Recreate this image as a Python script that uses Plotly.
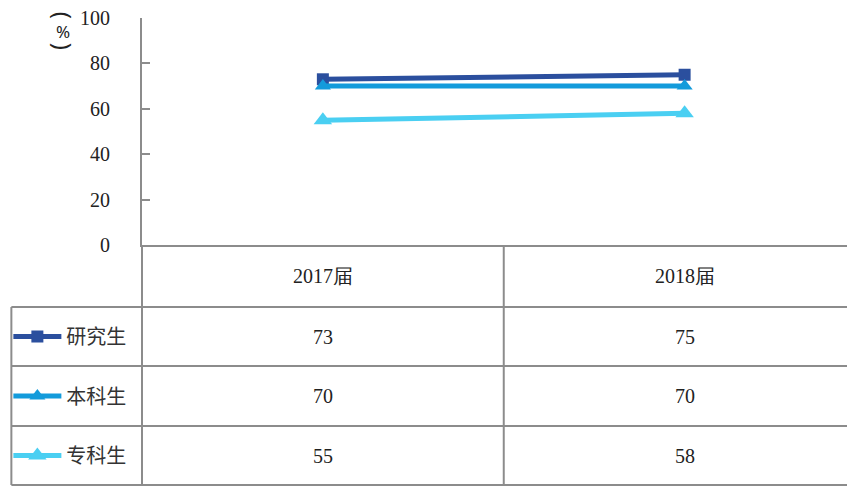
import plotly.graph_objects as go

categories = ["2017届", "2018届"]
series_names = ["研究生", "本科生", "专科生"]
grad_vals = [73, 75]
bach_vals = [70, 70]
voc_vals = [55, 58]
y_ticks = [0, 20, 40, 60, 80, 100]

colors = ["#2B4F9E", "#139BDB", "#4ACFF2"]
symbols = ["square", "triangle-up", "triangle-up"]
msizes = [12, 14, 16]
all_vals = [grad_vals, bach_vals, voc_vals]

OFF = 8  # default page body margin
W, H = 855 - OFF, 486 - OFF
AX_L, AX_T, AX_B = 140, 18, 245
L = AX_L - OFF
T = AX_T - OFF
B = H - (AX_B - OFF)
R = 0
plot_h = H - T - B
plot_w = W - L - R

def py(p):  # screenshot pixel y -> paper y
    return (AX_B - p) / plot_h

def px(p):
    return (p - AX_L) / plot_w

fig = go.Figure()
legend_names = ["legend", "legend2", "legend3"]
row_centers = [336.5, 396, 455.5]
for i, (name, vals) in enumerate(zip(series_names, all_vals)):
    fig.add_trace(go.Scatter(
        x=[0, 1], y=vals, name=name, mode="lines+markers",
        line=dict(color=colors[i], width=5),
        marker=dict(symbol=symbols[i], size=msizes[i], color=colors[i]),
        legend=legend_names[i], showlegend=True, cliponaxis=False,
    ))

grid = "#8C8C8C"
font_serif = "Liberation Serif"
font_cjk = "Noto Sans CJK SC"

layout_legends = {}
for i, ln in enumerate(legend_names):
    layout_legends[ln] = dict(
        x=px(6), y=py(row_centers[i]), xanchor="left", yanchor="middle",
        bgcolor="rgba(0,0,0,0)", font=dict(family=font_cjk, size=20, color="#333333"),
        itemwidth=48, tracegroupgap=0,
    )

shapes = []
def hline(y, x0, x1):
    shapes.append(dict(type="line", xref="paper", yref="paper", x0=px(x0), x1=px(x1),
                       y0=py(y), y1=py(y), line=dict(color=grid, width=2)))
def vline(x, y0, y1):
    shapes.append(dict(type="line", xref="paper", yref="paper", x0=px(x), x1=px(x),
                       y0=py(y0), y1=py(y1), line=dict(color=grid, width=2)))

for yy in [307, 366, 426, 485]:
    hline(yy, 9, 855)
vline(140, 245, 486)
vline(9, 307, 485)
shapes.append(dict(type="line", xref="x", yref="paper", x0=0.5, x1=0.5,
                   y0=py(245), y1=py(486), line=dict(color=grid, width=2)))

annotations = []
for j, cat in enumerate(categories):
    annotations.append(dict(x=j, y=py(276), xref="x", yref="paper", text=cat,
                            xanchor="center", yanchor="middle",
                            showarrow=False, font=dict(family=font_serif, size=20, color="#222222")))
    for i, vals in enumerate(all_vals):
        annotations.append(dict(x=j, y=py(row_centers[i]), xref="x", yref="paper",
                                xanchor="center", yanchor="middle",
                                text=str(vals[j]), showarrow=False,
                                font=dict(family=font_serif, size=20, color="#222222")))
# vertical unit label "（%）": parentheses rotated, % upright
for ch, yy, ang, fs in [("(", 15, 90, 24), ("%", 31, 0, 17), (")", 46, 90, 24)]:
    annotations.append(dict(x=px(61), y=py(yy), xref="paper", yref="paper",
                            xanchor="center", yanchor="middle", textangle=ang,
                            text=ch, showarrow=False,
                            font=dict(family="Noto Sans", size=fs, color="#222222")))

fig.update_layout(
    width=W, height=H, margin=dict(l=L, r=R, t=T, b=B, pad=0),
    paper_bgcolor="white", plot_bgcolor="white",
    xaxis=dict(range=[-0.5, 1.471], showgrid=False, zeroline=False, showticklabels=False,
               ticks="", showline=True, linecolor=grid, linewidth=2),
    yaxis=dict(range=[0, 100], tickvals=y_ticks, showgrid=False, zeroline=False,
               ticks="inside", ticklen=8, tickcolor=grid, tickwidth=2,
               showline=True, linecolor=grid, linewidth=2, ticklabelstandoff=26,
               ticklabeloverflow="allow",
               tickfont=dict(family=font_serif, size=20, color="#222222")),
    shapes=shapes, annotations=annotations,
    **layout_legends,
)

fig.write_html("out.html")
